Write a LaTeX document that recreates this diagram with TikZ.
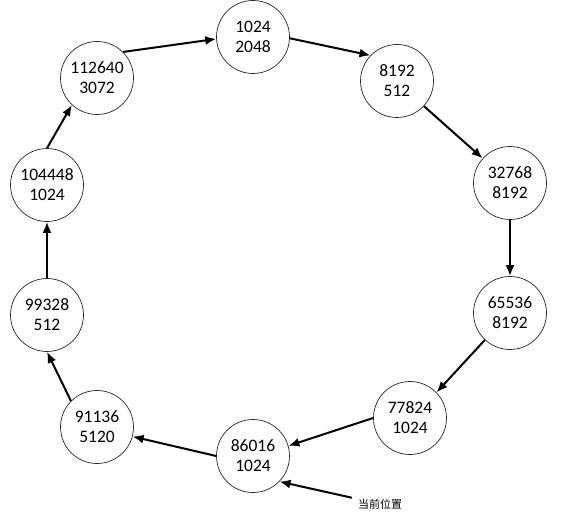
\documentclass[tikz,border=0pt]{standalone}
\usepackage{fontspec}
\setmainfont{Carlito}
\newfontfamily\cjk{Noto Sans CJK SC}
\usetikzlibrary{arrows.meta}
\begin{document}
\begin{tikzpicture}[x=1pt,y=-1pt,
  circ/.style={circle,draw=black!85,line width=0.7pt,minimum size=73pt,inner sep=0pt,
    align=center,font=\fontsize{17.5}{20}\selectfont},
  arr/.style={line width=2pt,-{Latex[length=11pt,width=9pt]}},
  lbl/.style={font=\cjk\fontsize{11}{13}\selectfont,inner sep=6pt}]
\useasboundingbox[fill=white] (0,0) rectangle (570,516);
\node[circ] (n1) at (253,37) {1024\\2048};
\node[circ] (n2) at (397,81) {8192\\512};
\node[circ] (n3) at (510,183) {32768\\8192};
\node[circ] (n4) at (510,313) {65536\\8192};
\node[circ] (n5) at (410,418) {77824\\1024};
\node[circ] (n6) at (253,456) {86016\\1024};
\node[circ] (n7) at (97,427) {91136\\5120};
\node[circ] (n8) at (47,315) {99328\\512};
\node[circ] (n9) at (47,185) {104448\\1024};
\node[circ] (n10) at (97,78) {112640\\3072};
\node[lbl] (cur) at (380,504) {当前位置};
\draw[arr] (n10.45) -- (n1.183);
\draw[arr] (n1.-2) -- (n2.136);
\draw[arr] (n2.-43) -- (n3.138);
\draw[arr] (n3.270) -- (n4.90);
\draw[arr] (n4.227) -- (n5.44);
\draw[arr] (n5.180) -- (n6.16);
\draw[arr] (n6.180) -- (n7.-15);
\draw[arr] (n7.135) -- (n8.270);
\draw[arr] (n8.90) -- (n9.270);
\draw[arr] (n9.90) -- (n10.227);
\draw[arr] (cur) -- (n6.-44);
\end{tikzpicture}
\end{document}
